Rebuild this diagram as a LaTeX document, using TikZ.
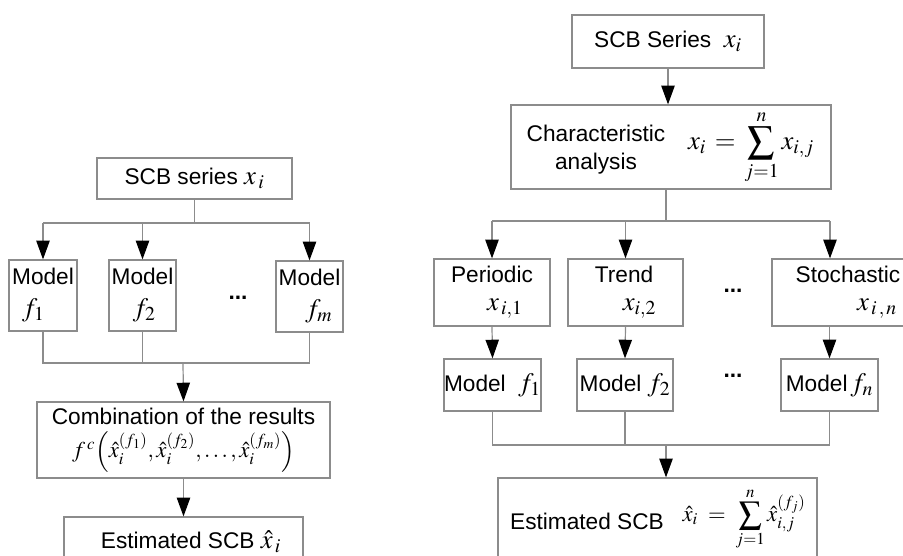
\documentclass[tikz,border=0pt]{standalone}
\usepackage{mathptmx}
\usepackage[no-math]{fontspec}
\setmainfont{Liberation Sans}
\usetikzlibrary{arrows.meta}
\definecolor{linegray}{RGB}{140,140,140}
\newcommand{\mbig}[1]{{\fontsize{20}{21}\selectfont$#1$}}
\tikzset{
  box/.style={draw=linegray, line width=0.9pt, inner sep=0pt},
  wh/.style 2 args={minimum width=#1*0.75pt, minimum height=#2*0.75pt},
  conn/.style={draw=linegray, line width=0.9pt},
  arr/.style={conn, -{Triangle[color=black,length=14pt,width=10pt]}},
}

\begin{document}
\begin{tikzpicture}[x=0.75pt,y=-0.75pt,font=\fontsize{17}{21}\selectfont]
  \useasboundingbox (0,0) rectangle (903,556);
  \clip (0,0) rectangle (903,556);
  % left: combination of models
  \node[box,wh={195}{41}] (ser) at (194.5,178.5) {SCB series \mbig{x_{\,i}}};
  \node[box,wh={68}{71},align=left] (m1) at (43,295.5) {Model\\[3pt]\hspace*{7.5pt}\mbig{f_1}};
  \node[box,wh={67}{71},align=left] (m2) at (142.5,295.5) {Model\\[3pt]\hspace*{16pt}\mbig{f_2}};
  \node[box,wh={67}{71},align=left] (mm) at (309.5,296.5) {Model\\[3pt]\hspace*{20pt}\mbig{f_m}};
  \node (dotsL) at (238,298) {\textbf{...}};
  \node[box,wh={293}{76},align=center] (comb) at (183.5,440)
    {Combination of the results\\[4pt]$f^{\,c}\Bigl(\hat{x}_i^{(f_1)},\hat{x}_i^{(f_2)},\ldots,\hat{x}_i^{(f_m)}\Bigr)$};
  \node[box,wh={239}{60}] (est) at (183.5,547) {};
  \node (esttxt) at (191,542) {Estimated SCB \mbig{\hat{x}_{\,i}}};
  \coordinate (lsplit) at (192,223);
  \coordinate (ljoin) at (183,363);
  \draw[conn] (ser.south) -- (ser.south |- lsplit);
  \draw[conn] (m1.north |- lsplit) -- (mm.north |- lsplit);
  \foreach \m in {m1,m2,mm}
    \draw[arr] (\m.north |- lsplit) -- (\m.north);
  \draw[conn] (m1.south) -- (m1.south |- ljoin) -- (mm.south |- ljoin) -- (mm.south);
  \draw[conn] (m2.south) -- (m2.south |- ljoin);
  \draw[arr] (ljoin) -- (comb.north);
  \draw[arr] (comb.south) -- (est.north);
  % right: decomposition of the series
  \node[box,wh={192}{53}] (rser) at (668,41.5) {SCB Series\ \ \mbig{x_i}};
  \node[box,wh={320}{84}] (char) at (671,147) {};
  \node[align=center] (chartxt) at (596,150) {Characteristic\\analysis};
  \node (charsum) at (751,147) {\mbig{x_i \,=\, \displaystyle\sum_{j=1}^{n} x_{i,j}}};
  \node[box,wh={116}{67},align=left] (per) at (492,292.5) {Periodic\\\hspace*{27pt}\mbig{x_{\,i,1}}};
  \node[box,wh={115}{67},align=left] (tre) at (625.5,292.5) {Trend\\\hspace*{21pt}\mbig{x_{i,2}}};
  \node[box,wh={152}{67},align=left] (sto) at (848,292.5) {Stochastic\\\hspace*{46pt}\mbig{x_{\,i\,,\,n}}};
  \node (dotsR) at (733,291) {\textbf{...}};
  \node[box,wh={97}{52}] (mf1) at (492.5,385) {Model\ \ \mbig{f_1}};
  \node[box,wh={96}{52}] (mf2) at (625,385) {Model \mbig{f_2}};
  \node[box,wh={97}{52}] (mfn) at (829.5,385) {Model\mbig{\,f_n}};
  \node (dotsM) at (733,376) {\textbf{...}};
  \node[box,wh={319}{82}] (rest) at (657.5,519) {};
  \node (resttxt) at (587,521) {Estimated SCB};
  \node (restsum) at (744,519) {$\hat{x}_i \;=\; \displaystyle\sum_{j=1}^{n}\hat{x}_{i,j}^{(f_j)}$};
  \coordinate (rsplit) at (666,221);
  \coordinate (rsplitC) at (830,221);
  \coordinate (rjoin) at (666,445);
  \draw[arr] (rser.south) -- (rser.south |- char.north);
  \draw[conn] (char.south -| rsplit) -- (rsplit);
  \draw[conn] (per.north |- rsplit) -- (rsplitC);
  \draw[arr] (per.north |- rsplit) -- (per.north);
  \draw[arr] (tre.north |- rsplit) -- (tre.north);
  \draw[arr] (rsplitC) -- (rsplitC |- sto.north);
  \draw[arr] (per.south) -- (mf1.north);
  \draw[arr] (tre.south) -- (mf2.north);
  \draw[arr] (mfn.north |- sto.south) -- (mfn.north);
  \draw[conn] (mf1.south) -- (mf1.south |- rjoin) -- (mfn.south |- rjoin) -- (mfn.south);
  \draw[conn] (mf2.south) -- (mf2.south |- rjoin);
  \draw[arr] (rjoin) -- (rjoin |- rest.north);
\end{tikzpicture}
\end{document}
